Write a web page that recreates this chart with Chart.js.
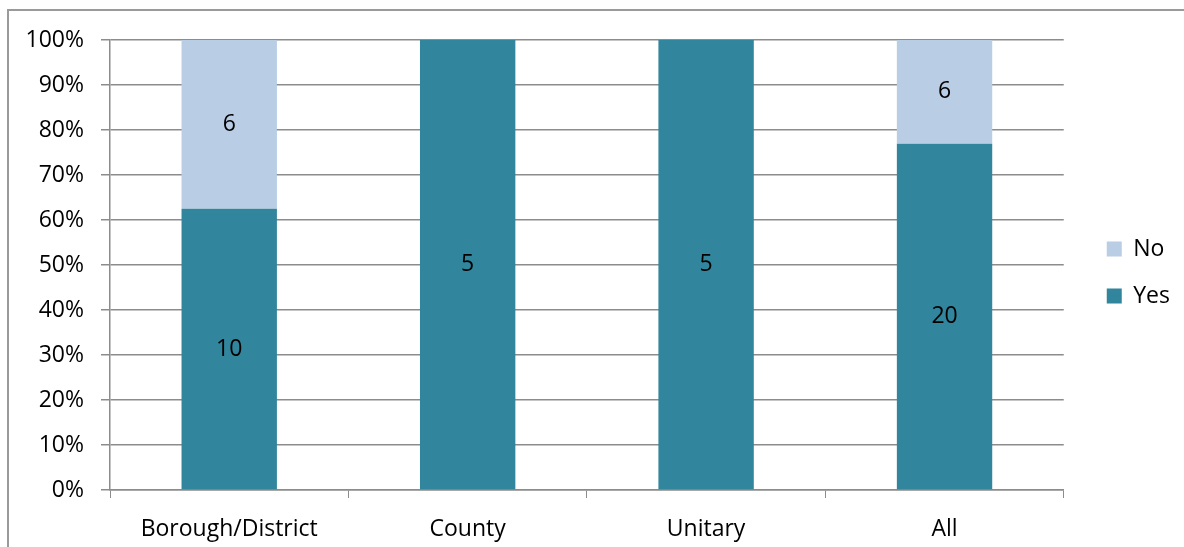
<!DOCTYPE html>
<html>
<head>
<meta charset="utf-8">
<script src="https://cdn.jsdelivr.net/npm/chart.js@4.4.1/dist/chart.umd.min.js"></script>
<style>
  html, body { margin: 0; padding: 0; background: #fff; }
  #wrap { position: relative; width: 1184px; height: 547px; overflow: hidden; }
  #frame { position: absolute; left: 7px; top: 9px; right: -4px; bottom: -4px;
           border-left: 2px solid #9a9a9a; border-top: 2px solid #9a9a9a; }
  #chart { position: absolute; left: 0; top: 0; }
</style>
</head>
<body>
<div id="wrap">
  <div id="frame"></div>
  <canvas id="chart" width="1184" height="547"></canvas>
</div>
<script>
// Categories and counts
const categories = ['Borough/District', 'County', 'Unitary', 'All'];
const yesCounts = [10, 5, 5, 20];
const noCounts = [6, 0, 0, 6];
const yTicks = [0, 10, 20, 30, 40, 50, 60, 70, 80, 90, 100];

const totals = categories.map((_, i) => yesCounts[i] + noCounts[i]);
const yesPct = yesCounts.map((v, i) => v / totals[i] * 100);
const noPct = noCounts.map((v, i) => v / totals[i] * 100);

const FONT = "'Open Sans', 'DejaVu Sans', sans-serif";
const FSIZE = 23;
const GRID = '#8c8c8c';

// Counts written in the middle of each segment
const countLabels = {
    id: 'countLabels',
    afterDatasetsDraw(chart) {
        const ctx = chart.ctx;
        ctx.save();
        ctx.font = FSIZE + 'px ' + FONT;
        ctx.fillStyle = '#000';
        ctx.textAlign = 'center';
        ctx.textBaseline = 'middle';
        chart.data.datasets.forEach((ds, di) => {
            const meta = chart.getDatasetMeta(di);
            meta.data.forEach((bar, i) => {
                const n = ds.counts[i];
                if (!n) return;
                ctx.fillText(String(n), bar.x, (bar.y + bar.base) / 2);
            });
        });
        ctx.restore();
    }
};

// Nudge the legend to where the original sits
const legendNudge = {
    id: 'legendNudge',
    afterLayout(chart) {
        const lg = chart.legend;
        if (!lg) return;
        lg.left += 19; lg.right += 19;
        lg.top -= 21; lg.bottom -= 21;
    }
};

new Chart(document.getElementById('chart'), {
    type: 'bar',
    data: {
        labels: categories,
        datasets: [
            {
                label: 'Yes',
                data: yesPct,
                counts: yesCounts,
                backgroundColor: '#31859c',
                categoryPercentage: 1,
                barPercentage: 0.4
            },
            {
                label: 'No',
                data: noPct,
                counts: noCounts,
                backgroundColor: '#b9cde5',
                categoryPercentage: 1,
                barPercentage: 0.4
            }
        ]
    },
    options: {
        responsive: false,
        animation: false,
        layout: { padding: { top: 40, right: 23, bottom: 0, left: 0 } },
        plugins: {
            tooltip: { enabled: false },
            legend: {
                position: 'right',
                reverse: true,
                labels: {
                    boxWidth: 15,
                    boxHeight: 15,
                    padding: 24,
                    color: '#000',
                    font: { family: FONT, size: FSIZE }
                }
            }
        },
        scales: {
            x: {
                stacked: true,
                grid: { drawOnChartArea: false, drawTicks: true, tickLength: 8, color: GRID, offset: true },
                border: { color: GRID, width: 1.5 },
                ticks: { color: '#000', padding: 18, font: { family: FONT, size: FSIZE } },
                afterFit(scale) { scale.height = 57; }
            },
            y: {
                stacked: true,
                min: 0,
                max: 100,
                afterBuildTicks(scale) { scale.ticks = yTicks.map(v => ({ value: v })); },
                grid: { color: GRID, lineWidth: 1.5, tickLength: 9 },
                border: { color: GRID, width: 1.5 },
                ticks: {
                    color: '#000',
                    padding: 17,
                    font: { family: FONT, size: FSIZE },
                    callback: v => v + '%'
                },
                afterFit(scale) { scale.width = 110; }
            }
        }
    },
    plugins: [countLabels, legendNudge]
});
</script>
</body>
</html>
